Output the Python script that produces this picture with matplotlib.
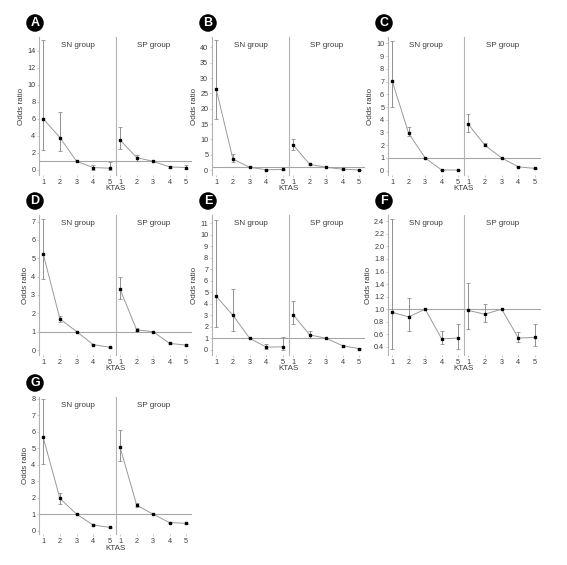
import matplotlib
matplotlib.use("Agg")
import matplotlib.pyplot as plt
import numpy as np

plt.rcParams['font.family'] = ['Liberation Sans Narrow', 'Liberation Sans', 'DejaVu Sans']

KTAS = [1, 2, 3, 4, 5]
GROUPS = ["SN group", "SP group"]

# Panel A
A_SN_OR = [6.0, 3.8, 1.0, 0.27, 0.2]
A_SN_LO = [2.3, 2.2, 1.0, 0.02, 0.0]
A_SN_HI = [15.2, 6.8, 1.0, 0.6, 0.9]
A_SP_OR = [3.5, 1.45, 1.0, 0.35, 0.28]
A_SP_LO = [2.4, 1.1, 1.0, 0.25, 0.1]
A_SP_HI = [5.0, 1.8, 1.0, 0.45, 0.6]
A_YTICKS = [0, 2, 4, 6, 8, 10, 12, 14]

# Panel B
B_SN_OR = [26.4, 3.6, 0.9, 0.1, 0.2]
B_SN_LO = [16.6, 2.7, 0.9, 0.05, 0.1]
B_SN_HI = [42.3, 5.1, 0.9, 0.2, 0.4]
B_SP_OR = [8.2, 1.9, 0.9, 0.3, 0.05]
B_SP_LO = [6.5, 1.7, 0.9, 0.2, 0.0]
B_SP_HI = [10.0, 2.1, 0.9, 0.4, 0.1]
B_YTICKS = [0, 5, 10, 15, 20, 25, 30, 35, 40]

# Panel C
C_SN_OR = [7.07, 2.93, 1.0, 0.05, 0.05]
C_SN_LO = [4.97, 2.7, 1.0, 0.03, 0.03]
C_SN_HI = [10.2, 3.4, 1.0, 0.08, 0.08]
C_SP_OR = [3.66, 2.0, 1.0, 0.3, 0.18]
C_SP_LO = [3.0, 1.9, 1.0, 0.25, 0.14]
C_SP_HI = [4.42, 2.2, 1.0, 0.35, 0.22]
C_YTICKS = [0, 1, 2, 3, 4, 5, 6, 7, 8, 9, 10]

# Panel D
D_SN_OR = [5.24, 1.7, 1.0, 0.29, 0.15]
D_SN_LO = [3.85, 1.55, 1.0, 0.25, 0.12]
D_SN_HI = [7.13, 1.85, 1.0, 0.33, 0.18]
D_SP_OR = [3.3, 1.1, 1.0, 0.36, 0.27]
D_SP_LO = [2.78, 1.05, 1.0, 0.32, 0.23]
D_SP_HI = [4.0, 1.2, 1.0, 0.4, 0.31]
D_YTICKS = [0, 1, 2, 3, 4, 5, 6, 7]

# Panel E
E_SN_OR = [4.65, 3.0, 1.0, 0.23, 0.26]
E_SN_LO = [1.95, 1.66, 1.0, 0.1, 0.0]
E_SN_HI = [11.25, 5.32, 1.0, 0.5, 1.15]
E_SP_OR = [3.05, 1.3, 1.0, 0.35, 0.1]
E_SP_LO = [2.27, 1.0, 1.0, 0.28, 0.05]
E_SP_HI = [4.2, 1.6, 1.0, 0.42, 0.2]
E_YTICKS = [0, 1, 2, 3, 4, 5, 6, 7, 8, 9, 10, 11]

# Panel F
F_SN_OR = [0.95, 0.877, 1.0, 0.527, 0.54]
F_SN_LO = [0.37, 0.65, 1.0, 0.45, 0.37]
F_SN_HI = [2.43, 1.185, 1.0, 0.65, 0.76]
F_SP_OR = [0.98, 0.92, 1.0, 0.54, 0.55]
F_SP_LO = [0.68, 0.79, 1.0, 0.47, 0.42]
F_SP_HI = [1.41, 1.09, 1.0, 0.63, 0.76]
F_YTICKS = [0.4, 0.6, 0.8, 1.0, 1.2, 1.4, 1.6, 1.8, 2.0, 2.2, 2.4]

# Panel G
G_SN_OR = [5.67, 1.96, 1.0, 0.34, 0.2]
G_SN_LO = [4.05, 1.65, 1.0, 0.3, 0.16]
G_SN_HI = [7.98, 2.3, 1.0, 0.38, 0.24]
G_SP_OR = [5.06, 1.56, 1.0, 0.49, 0.45]
G_SP_LO = [4.21, 1.45, 1.0, 0.45, 0.41]
G_SP_HI = [6.13, 1.7, 1.0, 0.53, 0.49]
G_YTICKS = [0, 1, 2, 3, 4, 5, 6, 7, 8]

W, H = 567, 565
fig = plt.figure(figsize=(W / 100, H / 100), dpi=100)
fig.patch.set_facecolor('white')

LINE_C = '#9a9a9a'
SPINE_C = '#b3b3b3'
TXT_C = '#3a3a3a'


def rect(l, r, t, b):
    return [l / W, 1 - b / H, (r - l) / W, (b - t) / H]


def panel(letter, cols, rows, yt, ylim, fmt, sn, sp):
    l, m, r = cols
    t, b = rows
    axes = []
    for i, (data, x0, x1) in enumerate([(sn, l, m), (sp, m, r)]):
        ax = fig.add_axes(rect(x0, x1, t, b))
        orv, lo, hi = data
        orv = np.array(orv); lo = np.array(lo); hi = np.array(hi)
        ax.axhline(1.0, color='#a6a6a6', lw=0.8, zorder=1)
        ax.errorbar(KTAS, orv, yerr=[orv - lo, hi - orv], fmt='none',
                    ecolor='#8f8f8f', elinewidth=0.7, capsize=1.2,
                    capthick=0.6, zorder=2)
        ax.plot(KTAS, orv, color=LINE_C, lw=0.7, zorder=3)
        ax.plot(KTAS, orv, 's', color='black', ms=1.6, zorder=4)
        ax.set_xlim(0.75, 5.35)
        ax.set_ylim(*ylim)
        ax.set_xticks(KTAS)
        ax.set_xticklabels([str(k) for k in KTAS])
        ax.set_yticks(yt)
        for s in ['top', 'right', 'bottom']:
            ax.spines[s].set_visible(False)
        ax.spines['left'].set_color(SPINE_C)
        ax.spines['left'].set_linewidth(0.8)
        ax.tick_params(axis='both', length=1.5, width=0.5, color=SPINE_C,
                       labelsize=5.2, labelcolor=TXT_C, pad=1.2)
        ax.text(0.5, 0.94, GROUPS[i], transform=ax.transAxes, ha='center',
                va='center', fontsize=5.8, color=TXT_C)
        if i == 0:
            ax.set_yticklabels([fmt.format(v) for v in yt])
            ax.set_ylabel('Odds ratio', fontsize=5.8, color=TXT_C, labelpad=1.5)
        else:
            ax.tick_params(axis='y', left=False, labelleft=False)
        axes.append(ax)
    fig.text(m / W, 1 - (b + 14) / H, 'KTAS', ha='center', va='center',
             fontsize=5.8, color=TXT_C)
    fig.text((l - 4) / W, 1 - (t - 14) / H, letter, ha='center', va='center',
             fontsize=9, fontweight='bold', color='white',
             bbox=dict(boxstyle='circle,pad=0.22', fc='black', ec='none'))
    return axes


COL1 = (39, 116, 192)
COL2 = (212, 289, 365)
COL3 = (388, 464, 541)
ROW1 = (37, 175)
ROW2 = (215, 355)
ROW3 = (397, 534)

panel('A', COL1, ROW1, A_YTICKS, (-0.6, 15.6), '{:g}',
      (A_SN_OR, A_SN_LO, A_SN_HI), (A_SP_OR, A_SP_LO, A_SP_HI))
panel('B', COL2, ROW1, B_YTICKS, (-1.6, 43.4), '{:g}',
      (B_SN_OR, B_SN_LO, B_SN_HI), (B_SP_OR, B_SP_LO, B_SP_HI))
panel('C', COL3, ROW1, C_YTICKS, (-0.34, 10.5), '{:g}',
      (C_SN_OR, C_SN_LO, C_SN_HI), (C_SP_OR, C_SP_LO, C_SP_HI))
panel('D', COL1, ROW2, D_YTICKS, (-0.27, 7.36), '{:g}',
      (D_SN_OR, D_SN_LO, D_SN_HI), (D_SP_OR, D_SP_LO, D_SP_HI))
panel('E', COL2, ROW2, E_YTICKS, (-0.45, 11.7), '{:g}',
      (E_SN_OR, E_SN_LO, E_SN_HI), (E_SP_OR, E_SP_LO, E_SP_HI))
panel('F', COL3, ROW2, F_YTICKS, (0.27, 2.5), '{:.1f}',
      (F_SN_OR, F_SN_LO, F_SN_HI), (F_SP_OR, F_SP_LO, F_SP_HI))
panel('G', COL1, ROW3, G_YTICKS, (-0.2, 8.12), '{:g}',
      (G_SN_OR, G_SN_LO, G_SN_HI), (G_SP_OR, G_SP_LO, G_SP_HI))

fig.savefig('out.png', dpi=100, facecolor='white')
